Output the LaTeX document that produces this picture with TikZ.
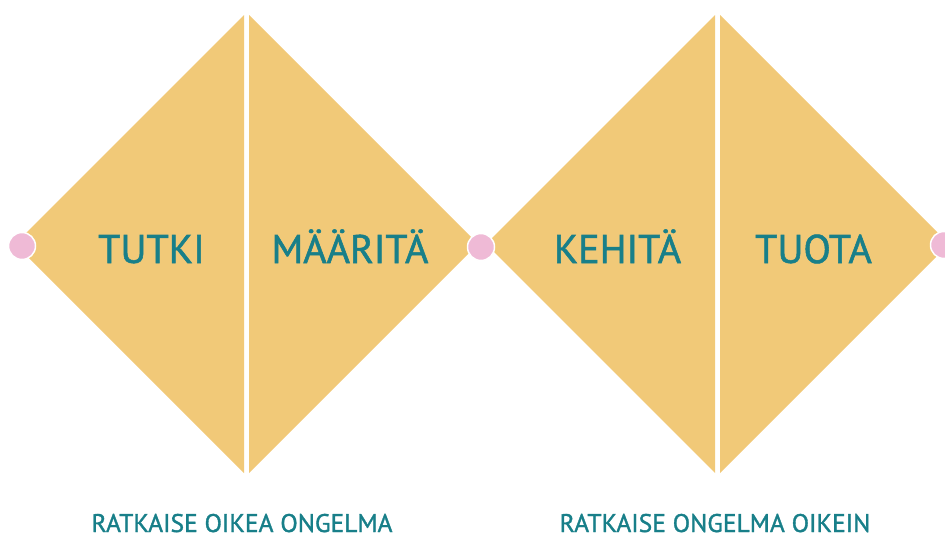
\documentclass[tikz,border=0pt]{standalone}
\usepackage{fontspec}
\setmainfont{PT Sans}[BoldFont={PT Sans}, BoldFeatures={FakeBold=1.3}]
\usetikzlibrary{positioning, calc}
\definecolor{ddorange}{RGB}{241,201,120}
\definecolor{ddpink}{RGB}{239,186,214}
\definecolor{ddteal}{RGB}{24,127,137}

\begin{document}
\begin{tikzpicture}[x=1pt, y=-1pt,
  half/.style={fill=ddorange, draw=none},
  phase/.style={anchor=base, text=ddteal, inner sep=0pt, font=\fontsize{40}{48}\selectfont\bfseries},
  goal/.style={anchor=base, text=ddteal, inner sep=0pt, font=\fontsize{25.5}{30}\selectfont\bfseries},
  dot/.style={circle, fill=ddpink, draw=white, line width=1.5pt, minimum size=27pt, inner sep=0pt}
]
\useasboundingbox (0,0) rectangle (945,538);
% left diamond
\fill[half] (244,15) -- (244,473) -- (15,244) -- cycle;
\fill[half] (249,15) -- (478,244) -- (249,473) -- cycle;
% right diamond
\fill[half] (715,15) -- (715,473) -- (486,244) -- cycle;
\fill[half] (720,15) -- (949,244) -- (720,473) -- cycle;
% dots
\node[dot] (start) at (22,246) {};
\node[dot] (mid) at (481,247) {};
\node[dot] (end) at (944,245) {};
% phases
\node[phase] (tutki) at (151.5,263) {TUTKI};
\node[phase] (maarita) at (350,263) {MÄÄRITÄ};
\node[phase] (kehita) at (617.5,263) {KEHITÄ};
\node[phase] (tuota) at (813.5,263) {TUOTA};
% goals
\node[goal] (oikea) at (242,532) {RATKAISE OIKEA ONGELMA};
\node[goal] (oikein) at (715,532) {RATKAISE ONGELMA OIKEIN};
\end{tikzpicture}
\end{document}
